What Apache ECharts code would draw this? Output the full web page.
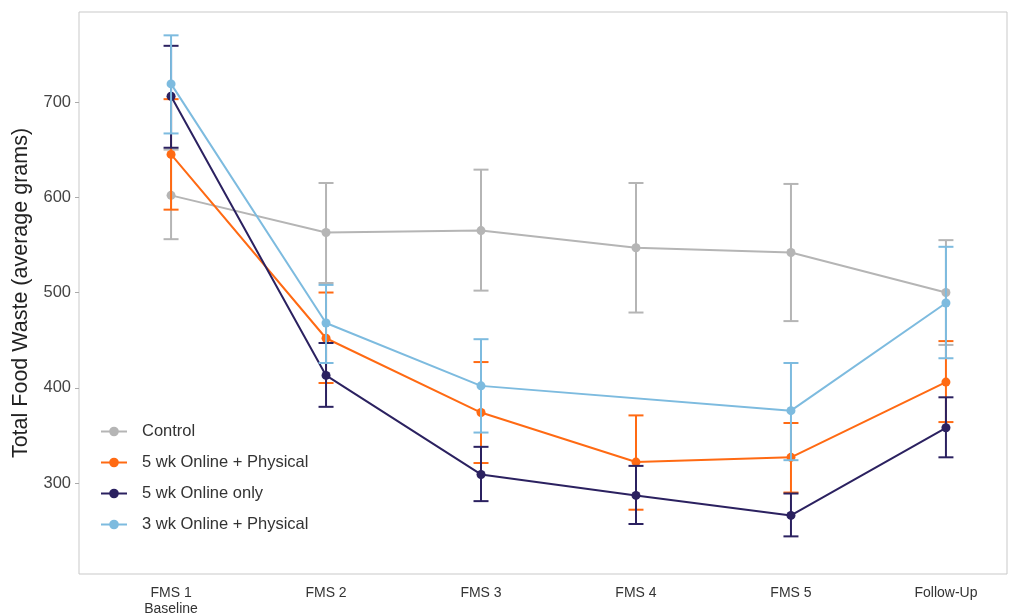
<!DOCTYPE html>
<html>
<head>
<meta charset="utf-8">
<script src="https://cdn.jsdelivr.net/npm/echarts@6/dist/echarts.min.js"></script>
<style>html,body{margin:0;padding:0;background:#fff;}#chart{width:1024px;height:614px;}</style>
</head>
<body>
<div id="chart"></div>
<script>
const categories = ['FMS 1\nBaseline', 'FMS 2', 'FMS 3', 'FMS 4', 'FMS 5', 'Follow-Up'];
const yTicks = [300, 400, 500, 600, 700];
const seriesNames = ['Control', '5 wk Online + Physical', '5 wk Online only', '3 wk Online + Physical'];
const seriesColors = ['#b5b5b5', '#ff6a13', '#2b2160', '#7dbbdf'];

const controlMean = [602, 563, 565, 547, 542, 500];
const controlLow  = [556, 510, 502, 479, 470, 445];
const controlHigh = [650, 615, 629, 615, 614, 555];

const online5PhysMean = [645, 452, 374, 322, 327, 406];
const online5PhysLow  = [587, 405, 321, 272, 290, 364];
const online5PhysHigh = [703, 500, 427, 371, 363, 449];

const online5OnlyMean = [706, 413, 309, 287, 266, 358];
const online5OnlyLow  = [652, 380, 281, 257, 244, 327];
const online5OnlyHigh = [759, 447, 338, 318, 289, 390];

const online3PhysMean = [719, 468, 402, null, 376, 489];
const online3PhysLow  = [667, 426, 353, null, 324, 431];
const online3PhysHigh = [770, 508, 451, null, 426, 548];

const groups = [
  [controlMean, controlLow, controlHigh],
  [online5PhysMean, online5PhysLow, online5PhysHigh],
  [online5OnlyMean, online5OnlyLow, online5OnlyHigh],
  [online3PhysMean, online3PhysLow, online3PhysHigh]
];

const series = [];
groups.forEach((g, gi) => {
  const color = seriesColors[gi];
  const errData = [];
  g[1].forEach((lo, i) => { if (lo != null) errData.push([i, lo, g[2][i]]); });
  series.push({
    name: seriesNames[gi] + ' error',
    type: 'custom',
    z: 2 + gi * 2,
    silent: true,
    data: errData,
    encode: { x: 0, y: [1, 2] },
    renderItem: function (params, api) {
      const x = api.value(0), lo = api.value(1), hi = api.value(2);
      const pLo = api.coord([x, lo]);
      const pHi = api.coord([x, hi]);
      const w = 7.5;
      const st = { stroke: color, lineWidth: 2 };
      return {
        type: 'group',
        children: [
          { type: 'line', shape: { x1: pHi[0], y1: pHi[1], x2: pLo[0], y2: pLo[1] }, style: st },
          { type: 'line', shape: { x1: pHi[0] - w, y1: pHi[1], x2: pHi[0] + w, y2: pHi[1] }, style: st },
          { type: 'line', shape: { x1: pLo[0] - w, y1: pLo[1], x2: pLo[0] + w, y2: pLo[1] }, style: st }
        ]
      };
    }
  });
  const lineData = [];
  g[0].forEach((v, i) => { if (v != null) lineData.push([i, v]); });
  series.push({
    name: seriesNames[gi],
    type: 'line',
    z: 3 + gi * 2,
    data: lineData,
    symbol: 'circle',
    symbolSize: 9,
    showSymbol: true,
    lineStyle: { color: color, width: 2 },
    itemStyle: { color: color },
    emphasis: { disabled: true }
  });
});

const chart = echarts.init(document.getElementById('chart'), null, { renderer: 'canvas' });
chart.setOption({
  animation: false,
  backgroundColor: '#ffffff',
  grid: { left: 79, right: 17, top: 12, bottom: 40, outerBoundsMode: 'none', containLabel: false, show: true, borderColor: '#c9c9c9', borderWidth: 1, backgroundColor: 'transparent' },
  legend: {
    data: seriesNames,
    orient: 'vertical',
    left: 95,
    top: 418,
    itemWidth: 26,
    itemHeight: 12,
    itemGap: 14,
    textStyle: { fontFamily: 'Liberation Sans, Arial, sans-serif', fontSize: 16.5, color: '#333', padding: [0, 0, 0, 10] }
  },
  xAxis: {
    type: 'value',
    min: -0.594,
    max: 5.394,
    splitLine: { show: false },
    axisLine: { show: false, onZero: false },
    axisTick: { show: false },
    axisLabel: {
      customValues: [0, 1, 2, 3, 4, 5],
      formatter: v => categories[Math.round(v)],
      fontFamily: 'Liberation Sans Narrow, Arial Narrow, Liberation Sans, sans-serif',
      fontSize: 14,
      color: '#333',
      margin: 11,
      lineHeight: 16
    }
  },
  yAxis: {
    type: 'value',
    min: 204.5,
    max: 794.5,
    name: 'Total Food Waste (average grams)',
    nameLocation: 'middle',
    nameGap: 41,
    nameTextStyle: { fontFamily: 'Liberation Sans, Arial, sans-serif', fontSize: 21.5, color: '#222' },
    splitLine: { show: false },
    axisLine: { show: false, onZero: false },
    axisTick: { show: true, customValues: yTicks, length: 4, lineStyle: { color: '#aaa' } },
    axisLabel: {
      customValues: yTicks,
      fontFamily: 'Liberation Sans, Arial, sans-serif',
      fontSize: 16.5,
      color: '#444',
      margin: 8
    }
  },
  series: series
});
</script>
</body>
</html>
